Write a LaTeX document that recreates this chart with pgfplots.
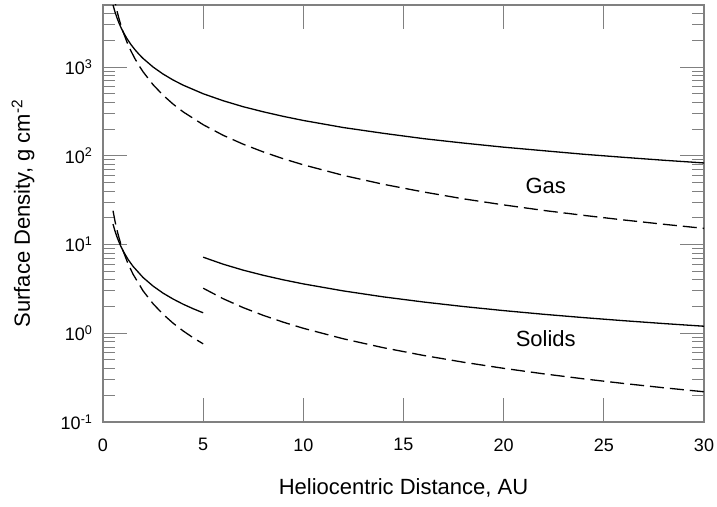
\documentclass[border=0pt]{standalone}
\usepackage{pgfplots}
\pgfplotsset{compat=1.18}
\usepackage{fontspec}
\setmainfont{Liberation Sans}
\usetikzlibrary{calc}

\pgfplotstableread{
x y
0.5 5000
0.6 4167
0.7 3571
0.8 3125
0.9 2778
1.0 2500
1.2 2083
1.4 1786
1.6 1563
1.8 1389
2.0 1250
2.5 1000
3.0 833
3.5 714
4.0 625
5.0 500
6.0 417
7.0 357
8.0 313
9.0 278
10 250
12 208
14 179
16 156
18 139
20 125
22 114
24 104
26 96
28 89
30 83
}\gasflat

\pgfplotstableread{
x y
0.5 7071
0.6 5379
0.7 4269
0.8 3494
0.9 2928
1.0 2500
1.2 1902
1.4 1509
1.6 1235
1.8 1035
2.0 884
2.5 632
3.0 481
3.5 382
4.0 312.5
5.0 224
6.0 170
7.0 135
8.0 110.5
9.0 92.6
10 79.1
12 60.1
14 47.7
16 39.1
18 32.7
20 27.95
22 24.2
24 21.3
26 18.9
28 16.9
30 15.2
}\gassteep

\pgfplotstableread{
x y
0.5 17.0
0.6 14.17
0.7 12.14
0.8 10.63
0.9 9.44
1.0 8.5
1.25 6.8
1.5 5.67
2.0 4.25
2.5 3.4
3.0 2.83
3.5 2.43
4.0 2.125
4.5 1.89
5.0 1.7
}\solidinflat

\pgfplotstableread{
x y
0.5 24.04
0.6 18.29
0.7 14.51
0.8 11.88
0.9 9.96
1.0 8.5
1.25 6.08
1.5 4.63
2.0 3.005
2.5 2.150
3.0 1.636
3.5 1.298
4.0 1.0625
4.5 0.890
5.0 0.760
}\solidinsteep

\pgfplotstableread{
x y
5 7.2
6 6.0
7 5.14
8 4.5
9 4.0
10 3.6
12 3.0
14 2.57
16 2.25
18 2.0
20 1.8
22 1.636
24 1.5
26 1.385
28 1.286
30 1.2
}\solidoutflat

\pgfplotstableread{
x y
5 3.22
6 2.449
7 1.944
8 1.591
9 1.333
10 1.138
12 0.866
14 0.687
16 0.5625
18 0.4714
20 0.4025
22 0.3489
24 0.3062
26 0.2716
28 0.2430
30 0.2191
}\solidoutsteep

\definecolor{axgray}{gray}{0.5}

\begin{document}
\begin{tikzpicture}
\begin{axis}[
  name=ax,
  scale only axis,
  width=601pt, height=417pt,
  xmin=0, xmax=30,
  ymode=log, ymin=0.1, ymax=5000,
  /pgf/number format/assume math mode=true,
  xtick={0,5,...,30},
  xticklabels={0,5,10,15,20,25,30},
  minor x tick num=0,
  ytick={0.1,1,10,100,1000},
  yticklabels={10\textsuperscript{-1},10\textsuperscript{0},10\textsuperscript{1},10\textsuperscript{2},10\textsuperscript{3}},
  minor ytick={0.2,0.3,0.4,0.5,0.6,0.7,0.8,0.9,2,3,4,5,6,7,8,9,20,30,40,50,60,70,80,90,200,300,400,500,600,700,800,900,2000,3000,4000,5000},
  tick align=inside,
  major tick length=24pt,
  minor tick length=12pt,
  axis line style={axgray, line width=1.2pt},
  tick style={axgray, line width=1pt},
  tick label style={font=\fontsize{18}{20}\selectfont, black},
  xticklabel style={yshift=-13pt},
  yticklabel style={xshift=-7pt},
  every axis x label/.style={at={(axis description cs:0.5,-0.158)}, anchor=center, font=\fontsize{22}{24}\selectfont},
  every axis y label/.style={at={(axis description cs:-0.133,0.5)}, rotate=90, anchor=center, font=\fontsize{22}{24}\selectfont},
  xlabel={Heliocentric Distance, AU},
  ylabel={Surface Density, g cm\textsuperscript{-2}},
]
\addplot[black, line width=1.3pt] table {\gasflat};
\addplot[black, line width=1.3pt, dash pattern=on 14pt off 6pt] table {\gassteep};
\addplot[black, line width=1.3pt] table {\solidinflat};
\addplot[black, line width=1.3pt, dash pattern=on 14pt off 6pt] table {\solidinsteep};
\addplot[black, line width=1.3pt] table {\solidoutflat};
\addplot[black, line width=1.3pt, dash pattern=on 14pt off 6pt] table {\solidoutsteep};
\node[font=\fontsize{22}{24}\selectfont] at (axis cs:22.1,46) {Gas};
\node[font=\fontsize{22}{24}\selectfont] at (axis cs:22.1,0.88) {Solids};
\end{axis}
\pgfresetboundingbox
\useasboundingbox ($(ax.south west)+(-103pt,-84pt)$) rectangle ($(ax.north east)+(13pt,5pt)$);
\end{tikzpicture}
\end{document}
